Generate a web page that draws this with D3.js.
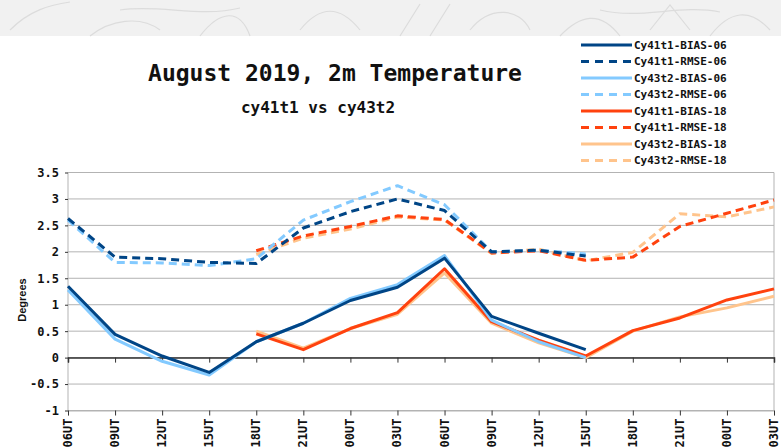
<!DOCTYPE html>
<html>
<head>
<meta charset="utf-8">
<script src="https://cdn.jsdelivr.net/npm/d3@7"></script>
<style>
body { margin: 0; background: #fff; }
</style>
</head>
<body>
<script>
var width = 781;
var height = 447;

// categories along the x axis
var hours = ["06UT","09UT","12UT","15UT","18UT","21UT","00UT","03UT",
             "06UT","09UT","12UT","15UT","18UT","21UT","00UT","03UT"];
var yTicks = [-1, -0.5, 0, 0.5, 1, 1.5, 2, 2.5, 3, 3.5];

// series values (null = no value)
var cy41Bias06 = [1.35, 0.44, 0.03, -0.28, 0.3, 0.65, 1.08, 1.33, 1.88, 0.78, 0.46, 0.15, null, null, null, null];
var cy41Rmse06 = [2.63, 1.9, 1.87, 1.8, 1.78, 2.45, 2.76, 3.0, 2.78, 2.0, 2.03, 1.92, null, null, null, null];
var cy43Bias06 = [1.28, 0.35, -0.07, -0.33, 0.3, 0.65, 1.12, 1.38, 1.93, 0.71, 0.3, 0.0, null, null, null, null];
var cy43Rmse06 = [2.6, 1.8, 1.79, 1.74, 1.87, 2.6, 2.95, 3.25, 2.89, 2.0, 2.03, 1.96, null, null, null, null];
var cy41Bias18 = [null, null, null, null, 0.45, 0.15, 0.55, 0.85, 1.68, 0.68, 0.33, 0.03, 0.51, 0.75, 1.09, 1.3];
var cy41Rmse18 = [null, null, null, null, 2.02, 2.3, 2.48, 2.68, 2.61, 1.98, 2.02, 1.84, 1.9, 2.48, 2.73, 2.98];
var cy43Bias18 = [null, null, null, null, 0.5, 0.18, 0.55, 0.82, 1.6, 0.65, 0.28, 0.0, 0.5, 0.77, 0.94, 1.16];
var cy43Rmse18 = [null, null, null, null, 1.95, 2.26, 2.43, 2.66, 2.6, 1.97, 2.05, 1.83, 1.99, 2.72, 2.66, 2.85];

var seriesNames = ["Cy41t1-BIAS-06","Cy41t1-RMSE-06","Cy43t2-BIAS-06","Cy43t2-RMSE-06",
                   "Cy41t1-BIAS-18","Cy41t1-RMSE-18","Cy43t2-BIAS-18","Cy43t2-RMSE-18"];
var seriesValues = [cy41Bias06, cy41Rmse06, cy43Bias06, cy43Rmse06,
                    cy41Bias18, cy41Rmse18, cy43Bias18, cy43Rmse18];
var colors = ["#004586","#004586","#83caff","#83caff","#ff420e","#ff420e","#ffc48c","#ffc48c"];
var dashed = [false, true, false, true, false, true, false, true];

var mono = "'DejaVu Sans Mono', monospace";

var svg = d3.select("body")
    .append("svg")
    .attr("width", width)
    .attr("height", height);

// faint banner at the top
var banner = svg.append("g");
banner.append("rect")
    .attr("x", 0).attr("y", 0)
    .attr("width", width).attr("height", 36)
    .attr("fill", "#f1f1f1");
var scribbles = [
  "M10,30 C30,10 50,5 70,2", "M90,36 C110,20 140,15 160,30", "M200,36 C220,10 240,8 250,36",
  "M300,30 C320,5 340,5 360,30", "M400,36 L420,4 M430,36 L450,4", "M470,30 C490,5 520,8 530,30",
  "M560,36 C580,15 600,10 620,36", "M650,30 L670,5 L690,30", "M710,36 C730,10 750,8 770,30",
  "M600,10 C640,20 680,4 720,12", "M120,10 C160,4 200,18 240,8"
];
banner.selectAll("path")
    .data(scribbles)
    .enter().append("path")
    .attr("d", function(d) { return d; })
    .attr("fill", "none")
    .attr("stroke", "#dcdcdc")
    .attr("stroke-width", 1.2);

var x = d3.scalePoint()
    .domain(d3.range(hours.length))
    .range([68, 774]);

var y = d3.scaleLinear()
    .domain([-1, 3.5])
    .range([410.5, 172.5]);

// gridlines
svg.append("g")
    .selectAll("line")
    .data(yTicks)
    .enter().append("line")
    .attr("x1", 68).attr("x2", 774)
    .attr("y1", function(d) { return y(d); })
    .attr("y2", function(d) { return y(d); })
    .attr("stroke", "#b3b3b3")
    .attr("stroke-width", 1);

// left and right frame
svg.append("line")
    .attr("x1", 68).attr("x2", 68)
    .attr("y1", y(3.5)).attr("y2", y(-1))
    .attr("stroke", "#b3b3b3");
svg.append("line")
    .attr("x1", 774).attr("x2", 774)
    .attr("y1", y(3.5)).attr("y2", y(-1))
    .attr("stroke", "#b3b3b3");

// y axis
var yAxis = d3.axisLeft(y)
    .tickValues(yTicks)
    .tickSize(3)
    .tickPadding(6)
    .tickFormat(function(d) { return d; });
var gy = svg.append("g")
    .attr("transform", "translate(68,0)")
    .call(yAxis);
gy.select(".domain").remove();
gy.selectAll(".tick line").attr("stroke", "#333");
gy.selectAll("text")
    .attr("font-family", mono)
    .attr("font-weight", "bold")
    .attr("font-size", 12)
    .attr("fill", "#111");

// zero line with ticks
var zeroAxis = d3.axisBottom(x).tickSize(5).tickFormat("");
var gz = svg.append("g")
    .attr("transform", "translate(0," + y(0) + ")")
    .call(zeroAxis);
gz.select(".domain").attr("stroke", "#333").attr("stroke-width", 1.5);
gz.selectAll(".tick line").attr("stroke", "#333");

// bottom axis with labels
var xAxis = d3.axisBottom(x).tickSize(5).tickFormat("");
var gx = svg.append("g")
    .attr("transform", "translate(0," + y(-1) + ")")
    .call(xAxis);
gx.select(".domain").attr("stroke", "#b3b3b3");
gx.selectAll(".tick line").attr("stroke", "#333");

svg.append("g")
    .selectAll("text")
    .data(hours)
    .enter().append("text")
    .attr("transform", function(d, i) {
        return "translate(" + (x(i) + 4) + "," + (y(-1) + 8) + ") rotate(-90)";
    })
    .attr("text-anchor", "end")
    .attr("font-family", mono)
    .attr("font-weight", "bold")
    .attr("font-size", 12)
    .attr("fill", "#111")
    .text(function(d) { return d; });

// lines
var line = d3.line()
    .defined(function(d) { return d != null; })
    .x(function(d, i) { return x(i); })
    .y(function(d) { return y(d); });

var order = [7, 6, 5, 4, 3, 2, 1, 0];
svg.append("g")
    .selectAll("path")
    .data(order)
    .enter().append("path")
    .attr("d", function(k) { return line(seriesValues[k]); })
    .attr("fill", "none")
    .attr("stroke", function(k) { return colors[k]; })
    .attr("stroke-width", 3)
    .attr("stroke-linejoin", "round")
    .attr("stroke-dasharray", function(k) { return dashed[k] ? "8,5" : null; });

// titles
svg.append("text")
    .attr("x", 335).attr("y", 81)
    .attr("text-anchor", "middle")
    .attr("font-family", mono)
    .attr("font-weight", "bold")
    .attr("font-size", 23)
    .attr("fill", "#111")
    .text("August 2019, 2m Temperature");

svg.append("text")
    .attr("x", 318).attr("y", 113)
    .attr("text-anchor", "middle")
    .attr("font-family", mono)
    .attr("font-weight", "bold")
    .attr("font-size", 16)
    .attr("fill", "#111")
    .text("cy41t1 vs cy43t2");

svg.append("text")
    .attr("transform", "translate(26,300) rotate(-90)")
    .attr("text-anchor", "middle")
    .attr("font-family", "'Liberation Sans', Arial, sans-serif")
    .attr("font-weight", "bold")
    .attr("font-size", 11)
    .attr("fill", "#111")
    .text("Degrees");

// legend
var legend = svg.selectAll(".legend")
    .data(seriesNames)
    .enter().append("g")
    .attr("class", "legend")
    .attr("transform", function(d, i) { return "translate(581," + (45 + i * 16.5) + ")"; });

legend.append("line")
    .attr("x1", 0).attr("x2", 51)
    .attr("y1", 0).attr("y2", 0)
    .attr("stroke", function(d, i) { return colors[i]; })
    .attr("stroke-width", 3)
    .attr("stroke-dasharray", function(d, i) { return dashed[i] ? "8,6" : null; });

legend.append("text")
    .attr("x", 53)
    .attr("y", 0)
    .attr("dy", "0.35em")
    .attr("font-family", mono)
    .attr("font-weight", "bold")
    .attr("font-size", 11)
    .attr("fill", "#111")
    .text(function(d) { return d; });
</script>
</body>
</html>
